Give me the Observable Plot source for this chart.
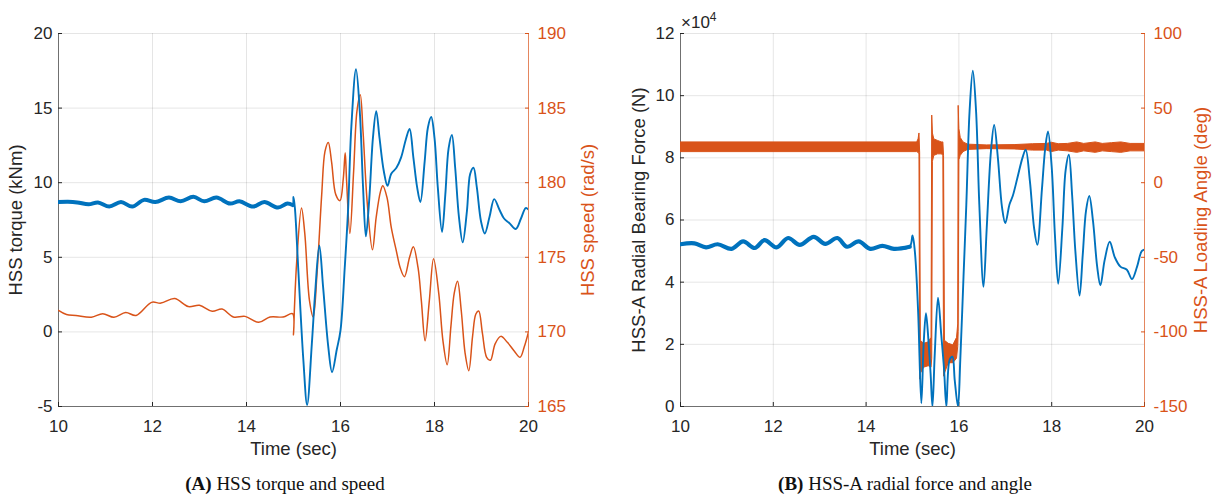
<!DOCTYPE html>
<html><head><meta charset="utf-8">
<script src="https://cdn.jsdelivr.net/npm/d3@7"></script>
<script src="https://cdn.jsdelivr.net/npm/@observablehq/plot@0.6"></script>
<style>
body{margin:0;background:#fff;}
#root{position:relative;width:1215px;height:496px;overflow:hidden;background:#fff;font-family:"Liberation Sans",Arial,sans-serif;}
.cap{position:absolute;top:473px;font-family:"Liberation Serif","Times New Roman",serif;font-size:19px;line-height:22px;text-align:center;color:#111;white-space:nowrap;}
.mult{position:absolute;left:681px;top:14px;font-size:17px;line-height:17px;color:#262626;white-space:nowrap;}
.mult span{position:relative;top:-7px;font-size:12px;}
</style></head><body><div id="root"></div>
<script>
// ---------- data ----------
const xTicks = [10, 12, 14, 16, 18, 20];
const torqueTicks = [-5, 0, 5, 10, 15, 20];
const speedTicks = [165, 170, 175, 180, 185, 190];
const forceTicks = [0, 2, 4, 6, 8, 10, 12];
const angleTicks = [-150, -100, -50, 0, 50, 100];

// (A) HSS torque (kNm)
const torqueTime = [10, 10.2, 10.4, 10.64, 10.84, 11.08, 11.33, 11.57, 11.82, 12.06, 12.35, 12.6, 12.87, 13.1, 13.36, 13.65, 13.85, 14.14, 14.38, 14.67, 14.87, 14.98, 15.0, 15.03, 15.1, 15.21, 15.29, 15.39, 15.46, 15.55, 15.63, 15.74, 15.82, 15.92, 16.0, 16.09, 16.16, 16.23, 16.33, 16.41, 16.48, 16.54, 16.61, 16.69, 16.76, 16.83, 16.92, 17.0, 17.08, 17.19, 17.29, 17.39, 17.47, 17.55, 17.63, 17.7, 17.79, 17.86, 17.93, 18.0, 18.07, 18.16, 18.23, 18.3, 18.37, 18.44, 18.52, 18.6, 18.69, 18.76, 18.83, 18.9, 18.99, 19.07, 19.17, 19.27, 19.38, 19.48, 19.59, 19.73, 19.84, 19.94, 20.0];
const torqueVal = [8.7, 8.72, 8.68, 8.55, 8.68, 8.4, 8.7, 8.4, 8.85, 8.7, 9.0, 8.75, 9.05, 8.75, 9.0, 8.6, 8.75, 8.4, 8.7, 8.33, 8.6, 8.5, 9.05, 8.3, 4.3, -1.9, -4.9, -0.8, 2.6, 5.8, 3.0, -1.0, -2.7, -1.2, 0.1, 4.3, 8.1, 13.7, 17.6, 14.8, 9.7, 6.4, 8.8, 13.0, 14.8, 13.0, 10.8, 9.8, 10.6, 11.0, 11.7, 12.9, 13.6, 11.7, 9.7, 8.7, 11.4, 13.7, 14.4, 13.0, 9.7, 6.7, 9.2, 12.3, 13.2, 11.0, 7.7, 6.0, 8.1, 10.6, 11.0, 9.7, 7.4, 6.6, 7.7, 8.9, 8.2, 7.6, 7.3, 6.9, 7.6, 8.3, 8.2];

// (A) HSS speed (rad/s)
const speedTime = [10.0, 10.17, 10.37, 10.7, 10.94, 11.18, 11.43, 11.65, 11.98, 12.18, 12.47, 12.76, 13.0, 13.27, 13.48, 13.72, 13.97, 14.26, 14.5, 14.78, 14.98, 15.0, 15.02, 15.07, 15.17, 15.24, 15.34, 15.42, 15.5, 15.6, 15.67, 15.74, 15.81, 15.9, 15.99, 16.06, 16.1, 16.13, 16.2, 16.28, 16.35, 16.42, 16.48, 16.57, 16.68, 16.76, 16.85, 16.9, 16.99, 17.08, 17.19, 17.27, 17.36, 17.47, 17.55, 17.65, 17.72, 17.8, 17.89, 17.98, 18.09, 18.18, 18.27, 18.35, 18.42, 18.49, 18.57, 18.65, 18.73, 18.81, 18.88, 18.94, 19.02, 19.11, 19.19, 19.29, 19.41, 19.55, 19.7, 19.82, 19.91, 20.0];
const speedVal = [171.44, 171.16, 171.1, 170.98, 171.22, 170.98, 171.3, 171.1, 171.98, 171.93, 172.24, 171.7, 171.78, 171.38, 171.53, 171.0, 171.04, 170.64, 171.0, 171.0, 171.22, 169.8, 171.6, 174.8, 178.3, 176.6, 172.1, 171.0, 173.9, 179.2, 182.1, 182.7, 181.4, 179.2, 178.8, 180.3, 182.0, 180.1, 176.6, 180.8, 184.8, 185.9, 183.4, 178.6, 175.5, 177.7, 179.4, 179.8, 179.0, 177.0, 175.4, 174.3, 173.7, 175.0, 175.7, 174.3, 172.1, 169.4, 172.1, 174.9, 172.6, 169.4, 167.8, 170.4, 172.6, 173.4, 171.4, 168.6, 167.4, 169.7, 171.2, 171.4, 169.9, 168.3, 168.1, 169.2, 169.7, 169.3, 168.7, 168.3, 169.0, 170.0];

// (B) HSS-A radial bearing force (x10^4 N)
const forceTime = [10, 10.3, 10.55, 10.8, 11.1, 11.35, 11.6, 11.81, 12.07, 12.32, 12.57, 12.87, 13.12, 13.38, 13.59, 13.84, 14.09, 14.35, 14.6, 14.94, 15.0, 15.05, 15.12, 15.19, 15.24, 15.29, 15.34, 15.39, 15.43, 15.48, 15.55, 15.62, 15.68, 15.73, 15.8, 15.86, 15.91, 15.98, 16.03, 16.1, 16.16, 16.23, 16.3, 16.37, 16.44, 16.53, 16.6, 16.69, 16.76, 16.84, 16.93, 17.0, 17.09, 17.16, 17.26, 17.37, 17.44, 17.53, 17.62, 17.69, 17.79, 17.86, 17.92, 18.0, 18.07, 18.14, 18.23, 18.3, 18.37, 18.44, 18.51, 18.6, 18.67, 18.74, 18.81, 18.89, 18.98, 19.05, 19.14, 19.25, 19.36, 19.48, 19.62, 19.73, 19.84, 19.94, 20.0];
const forceVal = [5.22, 5.25, 5.12, 5.22, 5.07, 5.31, 5.1, 5.35, 5.12, 5.42, 5.2, 5.46, 5.23, 5.42, 5.14, 5.31, 5.07, 5.17, 5.07, 5.14, 5.5, 5.0, 3.1, 0.1, 2.0, 3.0, 2.2, 1.06, 0.0, 1.7, 3.5, 2.3, 1.2, 0.0, 1.5, 1.6, 0.85, 0.0, 1.5, 4.2, 6.5, 9.5, 10.8, 9.5, 6.5, 3.85, 5.75, 8.2, 9.06, 8.0, 6.4, 5.9, 6.5, 6.77, 7.35, 8.0, 8.26, 7.25, 5.75, 5.2, 7.0, 8.3, 8.85, 7.7, 5.5, 3.95, 5.75, 7.6, 8.1, 6.8, 5.0, 3.57, 4.9, 6.3, 6.77, 5.97, 4.5, 3.9, 4.7, 5.3, 4.8, 4.5, 4.4, 4.1, 4.5, 5.0, 5.05];

// (B) HSS-A loading angle (deg): noisy band, lower and upper envelope
const angleTime = [10.0, 15.1, 15.13, 15.15, 15.165, 15.18, 15.25, 15.35, 15.41, 15.425, 15.44, 15.47, 15.55, 15.63, 15.665, 15.68, 15.7, 15.78, 15.88, 15.96, 15.985, 15.995, 16.01, 16.04, 16.1, 16.2, 16.6, 17.2, 17.6, 17.9, 18.0, 18.15, 18.35, 18.55, 18.7, 18.95, 19.1, 19.3, 19.5, 19.7, 20.0];
const angleLo = [20.5, 20.5, 20, 19, -132, -128, -124, -123, -124, -118, 14, 18, 19, 19, 18, -130, -128, -121, -121, -118, -110, -100, 15, 18, 20.5, 22, 22.5, 22.3, 21.5, 21.5, 20.5, 21.5, 21, 20, 21, 20, 21, 20.5, 20, 21, 21];
const angleHi = [27, 27, 29, 33, 20, -106, -108, -107, -104, 45, 33, 29, 28, 27, 27, 18, -106, -108, -109, -104, -95, 51.5, 36, 30, 27, 25.5, 25, 25.2, 25.8, 26, 26.8, 25.8, 26, 27, 26, 27, 26, 26.5, 27, 26, 26];

// ---------- build ----------
const BLUE = "#0072BD", ORANGE = "#D95319", INK = "#262626";
const FONT = '"Liberation Sans", Arial, sans-serif';
const torque = torqueTime.map((t, i) => ({t, v: torqueVal[i]}));
const speed = speedTime.map((t, i) => ({t, s: speedVal[i]}));
const force = forceTime.map((t, i) => ({t, f: forceVal[i]}));
const angle = angleTime.map((t, i) => ({t, lo: angleLo[i], hi: angleHi[i]}));
const fmt = d => String(d);

const root = document.getElementById("root");
function common(w, ml, mr) {
  return {width: w, height: 470, marginLeft: ml, marginRight: mr, marginTop: 33, marginBottom: 64,
    style: {background: "transparent", fontFamily: FONT, fontSize: "17px", color: INK, overflow: "visible"}};
}
function place(svg, left) {
  svg.style.position = "absolute"; svg.style.left = left + "px"; svg.style.top = "0px";
  svg.style.maxWidth = "none";
  root.appendChild(svg);
}
function baseLayer(w, ml, mr, yDomain, yTicks, xTitle, yTitle, titleDx) {
  const yGrid = yTicks.slice(1);
  return Plot.plot({...common(w, ml, mr), x: {domain: [10, 20]}, y: {domain: yDomain},
    marks: [
      Plot.gridX(xTicks.slice(1, -1), {stroke: "#000", strokeOpacity: 0.1}),
      Plot.gridY(yGrid, {stroke: "#000", strokeOpacity: 0.1}),
      Plot.ruleX([10], {stroke: "#707070"}),
      Plot.ruleY([yDomain[0]], {stroke: "#707070"}),
      Plot.axisX(xTicks, {tickSize: -4, tickPadding: 17, label: null, tickFormat: fmt, fill: INK, stroke: INK}),
      Plot.axisY(yTicks, {anchor: "left", tickSize: -4, tickPadding: 10, label: null, tickFormat: fmt, fill: INK, stroke: INK}),
      Plot.text([xTitle], {frameAnchor: "bottom", dy: 43, fontSize: 18.5, fill: INK, textAnchor: "middle", lineAnchor: "middle"}),
      Plot.text([yTitle], {frameAnchor: "left", dx: titleDx, rotate: -90, fontSize: 18.5, fill: INK, textAnchor: "middle", lineAnchor: "middle"})
    ]});
}
function rightLayer(w, ml, mr, yDomain, yTicks, yTitle, titleDx, seriesMarks) {
  return Plot.plot({...common(w, ml, mr), x: {domain: [10, 20], axis: null}, y: {domain: yDomain},
    marks: [
      Plot.ruleX([20], {stroke: ORANGE, strokeOpacity: 0.7}),
      Plot.axisY(yTicks, {anchor: "right", tickSize: -4, tickPadding: 13, label: null, tickFormat: fmt, fill: ORANGE, stroke: ORANGE}),
      ...seriesMarks,
      Plot.text([yTitle], {frameAnchor: "right", dx: titleDx, rotate: -90, fontSize: 18.5, fill: ORANGE, textAnchor: "middle", lineAnchor: "middle"})
    ]});
}
function leftSeriesLayer(w, ml, mr, yDomain, marks) {
  return Plot.plot({...common(w, ml, mr), x: {domain: [10, 20], axis: null}, y: {domain: yDomain, axis: null}, marks});
}

// Panel A
place(baseLayer(600, 58, 72, [-5, 20], torqueTicks, "Time (sec)", "HSS torque (kNm)", -42), 0);
place(rightLayer(600, 58, 72, [165, 190], speedTicks, "HSS speed (rad/s)", 60, [
  Plot.line(speed, {x: "t", y: "s", stroke: ORANGE, strokeWidth: 1.5, curve: "catmull-rom", clip: true})
]), 0);
place(leftSeriesLayer(600, 58, 72, [-5, 20], [
  Plot.line(torque, {x: "t", y: "v", stroke: BLUE, strokeWidth: 1.9, curve: "catmull-rom", clip: true}),
  Plot.line(torque, {x: "t", y: "v", filter: d => d.t <= 14.98, stroke: BLUE, strokeWidth: 4, curve: "catmull-rom", clip: true})
]), 0);

// Panel B
place(baseLayer(615, 80, 71, [0, 12], forceTicks, "Time (sec)", "HSS-A Radial Bearing Force (N)", -41), 600);
place(rightLayer(615, 80, 71, [-150, 100], angleTicks, "HSS-A Loading Angle (deg)", 57, [
  Plot.areaY(angle, {x: "t", y1: "lo", y2: "hi", fill: ORANGE, stroke: ORANGE, strokeWidth: 1, clip: true})
]), 600);
place(leftSeriesLayer(615, 80, 71, [0, 12], [
  Plot.line(force, {x: "t", y: "f", stroke: BLUE, strokeWidth: 1.9, curve: "catmull-rom", clip: true}),
  Plot.line(force, {x: "t", y: "f", filter: d => d.t <= 14.94, stroke: BLUE, strokeWidth: 4.2, curve: "catmull-rom", clip: true})
]), 600);

// multiplier and captions
const mult = document.createElement("div");
mult.className = "mult"; mult.innerHTML = "×10<span>4</span>";
root.appendChild(mult);
const capA = document.createElement("div");
capA.className = "cap"; capA.style.left = "0px"; capA.style.width = "570px";
capA.innerHTML = "<b>(A)</b> HSS torque and speed";
root.appendChild(capA);
const capB = document.createElement("div");
capB.className = "cap"; capB.style.left = "605px"; capB.style.width = "600px";
capB.innerHTML = "<b>(B)</b> HSS-A radial force and angle";
root.appendChild(capB);
</script></body></html>
